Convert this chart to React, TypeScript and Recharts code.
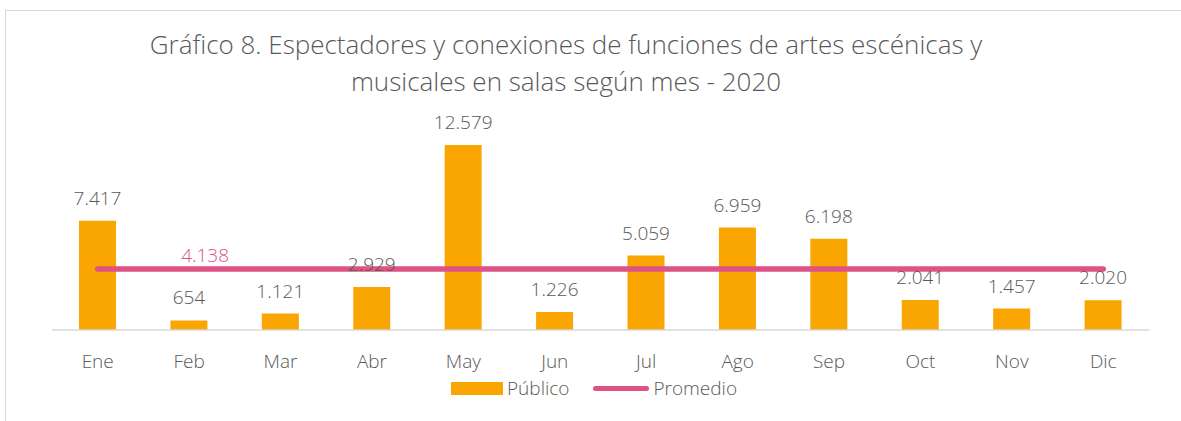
import React from "react";
import {
  ComposedChart,
  Bar,
  Line,
  XAxis,
  YAxis,
  LabelList,
} from "recharts";

const months = ["Ene", "Feb", "Mar", "Abr", "May", "Jun", "Jul", "Ago", "Sep", "Oct", "Nov", "Dic"];
const publico = [7417, 654, 1121, 2929, 12579, 1226, 5059, 6959, 6198, 2041, 1457, 2020];
const promedio = [4138, 4138, 4138, 4138, 4138, 4138, 4138, 4138, 4138, 4138, 4138, 4138];

const data = months.map((m, i) => ({ mes: m, publico: publico[i], promedio: promedio[i] }));

const FONT = "'Open Sans', Lato, sans-serif";
const GRAY = "#595959";
const ORANGE = "#F9A602";
const PINK = "#DE5285";

// thousands with a dot, like the source
const fmt = (v: number) => String(v).replace(/\B(?=(\d{3})+(?!\d))/g, ".");

function PromedioLabel(props: any) {
  const { x, y, index, value } = props;
  // the original only labels the average once, over Feb
  if (index !== 1) return null;
  return (
    <text x={x + 16} y={y - 7} textAnchor="middle" fill={PINK} fontSize={19} fontWeight={300} fontFamily={FONT}>
      {fmt(value)}
    </text>
  );
}

function LegendBox() {
  return (
    <div style={{ display: "flex", alignItems: "center", fontFamily: FONT, fontWeight: 300, fontSize: 19, color: GRAY }}>
      <span style={{ display: "inline-block", width: 52, height: 13, background: ORANGE, marginRight: 4 }} />
      <span style={{ marginRight: 24 }}>Público</span>
      <span style={{ display: "inline-block", width: 56, height: 5, borderRadius: 3, background: PINK, marginRight: 4 }} />
      <span>Promedio</span>
    </div>
  );
}

export default function App() {
  return (
    <div style={{ position: "absolute", left: 0, top: 0, width: 1181, height: 421, background: "#fff", overflow: "hidden" }}>
      <div style={{ position: "absolute", left: 5, top: 10, width: 1200, height: 430, borderTop: "1px solid #d9d9d9", borderLeft: "1px solid #d9d9d9" }} />
      <div
        style={{
          position: "absolute",
          left: 0,
          top: 26,
          width: 1132,
          textAlign: "center",
          fontFamily: FONT,
          fontWeight: 300,
          fontSize: 26,
          lineHeight: "37px",
          color: GRAY,
        }}
      >
        Gráfico 8. Espectadores y conexiones de funciones de artes escénicas y
        <br />
        musicales en salas según mes - 2020
      </div>
      <ComposedChart
        width={1181}
        height={421}
        data={data}
        margin={{ top: 124, left: 52, right: 32, bottom: 0 }}
        style={{ position: "absolute", left: 0, top: 0 }}
      >
        <XAxis
          dataKey="mes"
          axisLine={{ stroke: "#d9d9d9", strokeWidth: 1.5 }}
          tickLine={false}
          tickMargin={19}
          tick={{ fill: GRAY, fontSize: 19, fontWeight: 300, fontFamily: FONT }}
          height={91}
        />
        <YAxis hide domain={[0, 14000]} />
        <Bar dataKey="publico" name="Público" fill={ORANGE} barSize={37} isAnimationActive={false}>
          <LabelList
            dataKey="publico"
            position="top"
            offset={16}
            formatter={(v: any) => fmt(Number(v))}
            style={{ fill: GRAY, fontSize: 19, fontWeight: 300, fontFamily: FONT }}
          />
        </Bar>
        <Line
          dataKey="promedio"
          name="Promedio"
          stroke={PINK}
          strokeWidth={5.5}
          strokeLinecap="round"
          dot={false}
          activeDot={false}
          isAnimationActive={false}
        >
          <LabelList dataKey="promedio" content={<PromedioLabel />} />
        </Line>
      </ComposedChart>
      <div style={{ position: "absolute", top: 375, left: 451 }}>
        <LegendBox />
      </div>
    </div>
  );
}
